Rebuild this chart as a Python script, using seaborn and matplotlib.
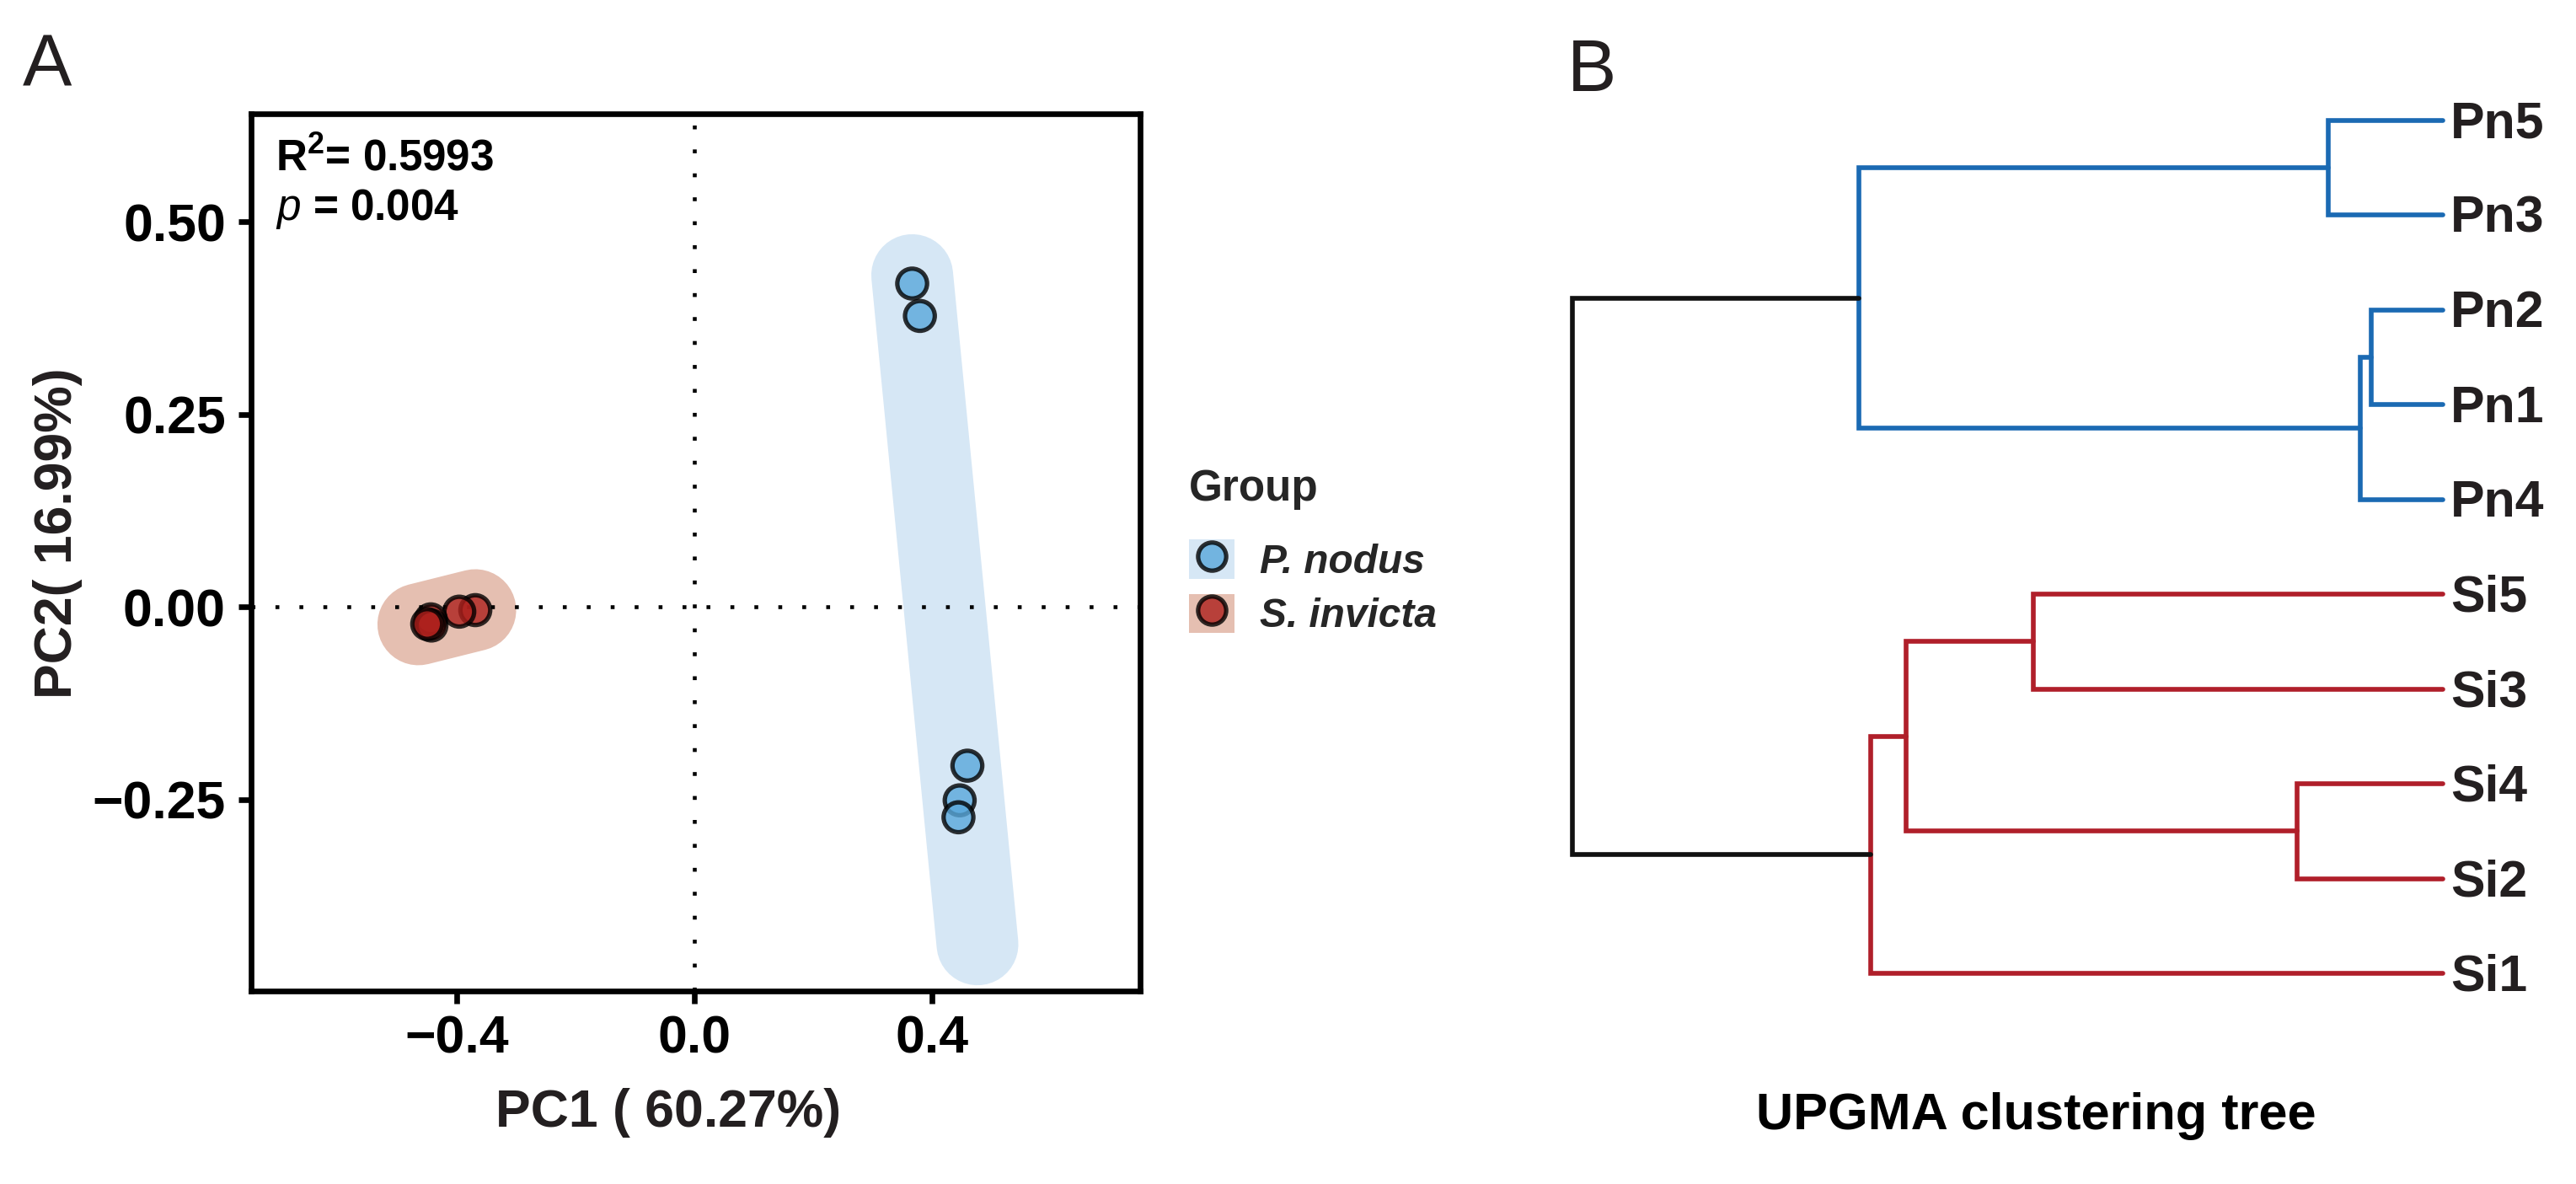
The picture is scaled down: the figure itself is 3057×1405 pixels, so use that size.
import numpy as np
import pandas as pd
import matplotlib
matplotlib.use("Agg")
import matplotlib.pyplot as plt
import seaborn as sns
from matplotlib.patches import Patch
from matplotlib.lines import Line2D
from matplotlib.legend_handler import HandlerTuple

# ---------------- data ----------------
groups = ["P. nodus", "S. invicta"]
pn_pc1 = [0.367, 0.380, 0.460, 0.447, 0.445]
pn_pc2 = [0.420, 0.378, -0.206, -0.251, -0.273]
si_pc1 = [-0.369, -0.396, -0.444, -0.443, -0.450]
si_pc2 = [-0.004, -0.006, -0.016, -0.024, -0.022]
# hull (group envelope) centre-line end points
pn_hull_pc1 = [0.367, 0.477]
pn_hull_pc2 = [0.431, -0.438]
si_hull_pc1 = [-0.465, -0.369]
si_hull_pc2 = [-0.0225, -0.004]

x_ticks = [-0.4, 0.0, 0.4]
x_tick_labels = ["\u22120.4", "0.0", "0.4"]
y_ticks = [-0.25, 0.0, 0.25, 0.50]
y_tick_labels = ["\u22120.25", "0.00", "0.25", "0.50"]
r2_value = "0.5993"
p_value = "0.004"
pc1_label = "PC1 ( 60.27%)"
pc2_label = "PC2( 16.99%)"

# UPGMA tree
leaf_labels = ["Pn5", "Pn3", "Pn2", "Pn1", "Pn4", "Si5", "Si3", "Si4", "Si2", "Si1"]
merge_left = ["Pn2", "m0", "Pn5", "Si4", "Si5", "m4", "m5", "m2", "m7"]
merge_right = ["Pn1", "Pn4", "Pn3", "Si2", "Si3", "m3", "Si1", "m1", "m6"]
merge_height = [0.082, 0.095, 0.132, 0.167, 0.470, 0.617, 0.657, 0.671, 1.000]
merge_group = ["Pn", "Pn", "Pn", "Si", "Si", "Si", "Si", "Pn", "root"]

# ---------------- style ----------------
W, H = 3057, 1405
DPI = 300
sns.set_style("ticks")
plt.rcParams["font.family"] = ["Liberation Sans", "DejaVu Sans"]
plt.rcParams["mathtext.fontset"] = "custom"
plt.rcParams["mathtext.rm"] = "Liberation Sans:bold"
plt.rcParams["mathtext.bf"] = "Liberation Sans:bold"
plt.rcParams["mathtext.it"] = "Liberation Sans:italic"

pt_colors = {"P. nodus": "#59a8db", "S. invicta": "#ad201c"}
hull_colors = {"P. nodus": "#d6e7f5", "S. invicta": "#e5bfb1"}
tree_colors = {"Pn": "#1b6ab3", "Si": "#b01f2a", "root": "#111111"}
txt = "#231f20"

fig = plt.figure(figsize=(W / DPI, H / DPI), dpi=DPI)

# ---------------- panel A ----------------
L, R, T, B = 298, 1353, 135, 1176
axA = fig.add_axes([L / W, 1 - B / H, (R - L) / W, (B - T) / H])

df = pd.DataFrame({
    "PC1": pn_pc1 + si_pc1,
    "PC2": pn_pc2 + si_pc2,
    "Group": [groups[0]] * len(pn_pc1) + [groups[1]] * len(si_pc1),
})

hull_lw = 23.3
axA.plot(pn_hull_pc1, pn_hull_pc2, color=hull_colors["P. nodus"], lw=hull_lw,
         solid_capstyle="round", zorder=1)
axA.plot(si_hull_pc1, si_hull_pc2, color=hull_colors["S. invicta"], lw=hull_lw,
         solid_capstyle="round", zorder=1)

axA.axhline(0, color="black", lw=1.1, ls=(0, (1, 5.2)), zorder=2)
axA.axvline(0, color="black", lw=1.1, ls=(0, (1, 5.2)), zorder=2)

sns.scatterplot(data=df, x="PC1", y="PC2", hue="Group", palette=pt_colors,
                s=72, edgecolor="black", linewidth=1.25, alpha=0.8,
                legend=False, ax=axA, zorder=3)

axA.set_xlim(-0.7467, 0.751)
axA.set_ylim(-0.4986, 0.6405)
axA.set_xticks(x_ticks)
axA.set_xticklabels(x_tick_labels)
axA.set_yticks(y_ticks)
axA.set_yticklabels(y_tick_labels)
axA.tick_params(axis="both", length=3.6, width=1.6, labelsize=15, color="black",
                labelcolor="black")
axA.tick_params(axis="x", pad=3)
axA.tick_params(axis="y", pad=3.6)
for lab in axA.get_xticklabels() + axA.get_yticklabels():
    lab.set_fontweight("bold")
for sp in axA.spines.values():
    sp.set_visible(True)
    sp.set_linewidth(1.6)
    sp.set_color("black")

axA.set_xlabel(pc1_label, fontsize=15, fontweight="bold", color=txt)
axA.xaxis.set_label_coords((793 - L) / (R - L), (B - 1320) / (B - T))
axA.xaxis.label.set_va("center")
axA.set_ylabel(pc2_label, fontsize=15, fontweight="bold", color=txt)
axA.yaxis.set_label_coords((69 - L) / (R - L), (B - 633) / (B - T))
axA.yaxis.label.set_va("center")

axA.text((327 - L) / (R - L), (B - 202) / (B - T), "R$^{2}$= " + r2_value,
         transform=axA.transAxes, fontsize=12.3, fontweight="bold",
         va="baseline", ha="left", color="black")
axA.text((327 - L) / (R - L), (B - 261) / (B - T), "$\\mathit{p}$ = " + p_value,
         transform=axA.transAxes, fontsize=12.3, fontweight="bold",
         va="baseline", ha="left", color="black")

# legend
handles = []
for g in groups:
    handles.append((Patch(facecolor=hull_colors[g], edgecolor="none"),
                    Line2D([], [], ls="", marker="o", markersize=8,
                           markerfacecolor=pt_colors[g], markeredgecolor="black",
                           markeredgewidth=1.25, alpha=0.8)))
leg = fig.legend(handles, groups, handler_map={tuple: HandlerTuple(ndivide=1)},
                 loc="upper left", bbox_to_anchor=(1411 / W, 1 - 556 / H),
                 frameon=False, borderpad=0, borderaxespad=0,
                 handlelength=1.13, handleheight=1.13, handletextpad=0.63,
                 labelspacing=0.3, title="Group", alignment="left",
                 title_fontproperties={"weight": "bold", "size": 12.3},
                 prop={"style": "italic", "weight": "bold", "size": 11.5})
leg._legend_box.sep = 8.5

# ---------------- panel B ----------------
TL, TR, TT, TB = 1866, 2899, 143, 1155
axB = fig.add_axes([TL / W, 1 - TB / H, (TR - TL) / W, (TB - TT) / H])
axB.set_xlim(max(merge_height), 0.0)
axB.set_ylim(len(leaf_labels) - 1, 0)
axB.axis("off")

ypos = {name: float(i) for i, name in enumerate(leaf_labels)}
hpos = {name: 0.0 for name in leaf_labels}
for k, (l, r, h, g) in enumerate(zip(merge_left, merge_right, merge_height, merge_group)):
    yl, yr = ypos[l], ypos[r]
    axB.plot([hpos[l], h, h, hpos[r]], [yl, yl, yr, yr], color=tree_colors[g],
             lw=1.35, solid_capstyle="round", solid_joinstyle="miter", clip_on=False)
    ypos[f"m{k}"] = (yl + yr) / 2
    hpos[f"m{k}"] = h

for name in leaf_labels:
    axB.annotate(name, xy=(0.0, ypos[name]), xytext=(2.2, -1.2),
                 textcoords="offset points", ha="left", va="center",
                 fontsize=14.6, fontweight="bold", color=txt, annotation_clip=False)

fig.text(2416 / W, 1 - 1340 / H, "UPGMA clustering tree", ha="center",
         va="baseline", fontsize=14.7, fontweight="bold", color="black")

# panel letters
fig.text(27 / W, 1 - 103 / H, "A", fontsize=21, ha="left", va="baseline", color=txt)
fig.text(1860 / W, 1 - 108 / H, "B", fontsize=21, ha="left", va="baseline", color=txt)

fig.savefig("out.png", dpi=DPI, facecolor="white")
